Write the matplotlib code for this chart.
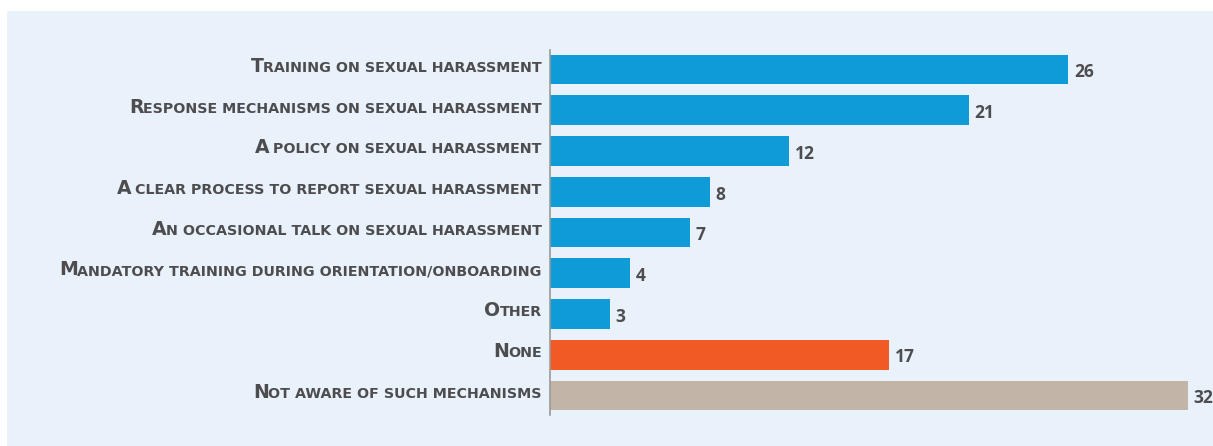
import matplotlib.pyplot as plt
from matplotlib.patches import Rectangle

# %% data
labels = [
    "Training on sexual harassment",
    "Response mechanisms on sexual harassment",
    "A policy on sexual harassment",
    "A clear process to report sexual harassment",
    "An occasional talk on sexual harassment",
    "Mandatory training during orientation/onboarding",
    "Other",
    "None",
    "Not aware of such mechanisms",
]
values = [26, 21, 12, 8, 7, 4, 3, 17, 32]
colors = ["#0E9BD7"] * 7 + ["#F15A24", "#C2B5A8"]

bg = "#E9F1FB"
txt = "#4D4D4F"

# %% plot
fig = plt.figure(figsize=(12.13, 4.46), dpi=100)
fig.patch.set_facecolor("white")
fig.patches.append(Rectangle((7 / 1213, 0), 1, 435 / 446, transform=fig.transFigure,
                             facecolor=bg, edgecolor="none", zorder=-10))

ax = fig.add_axes([550 / 1213, 31 / 446, 663 / 1213, 365 / 446])
ax.patch.set_alpha(0)
y = list(range(len(values)))
ax.barh(y, values, height=0.73, color=colors)
ax.set_xlim(0, 33.25)
ax.set_ylim(8.48, -0.48)

for s in ["top", "right", "bottom"]:
    ax.spines[s].set_visible(False)
ax.spines["left"].set_color("#9A9A9A")
ax.spines["left"].set_linewidth(1.2)
ax.set_xticks([])
ax.set_yticks([])

# small caps labels: big first letter, the rest in smaller capitals
for yi, lab in zip(y, labels):
    rest = ax.annotate(lab[1:].upper(), xy=(0, yi), xycoords="data",
                       xytext=(-6, -1.6), textcoords="offset points",
                       ha="right", va="baseline", fontsize=10.3,
                       fontfamily="DejaVu Sans", fontweight="bold", color=txt)
    ax.annotate(lab[0].upper(), xy=(0, yi), xycoords=(rest, "data"),
                xytext=(0.7, -1.6), textcoords="offset points",
                ha="right", va="baseline", fontsize=13.6,
                fontfamily="DejaVu Sans", fontweight="bold", color=txt)

for yi, v in zip(y, values):
    ax.annotate(str(v), xy=(v, yi), xytext=(4, -2), textcoords="offset points",
                ha="left", va="center", fontsize=12.5, fontfamily="Open Sans",
                fontweight="bold", color=txt, annotation_clip=False)

fig.savefig("out.png", dpi=100)
